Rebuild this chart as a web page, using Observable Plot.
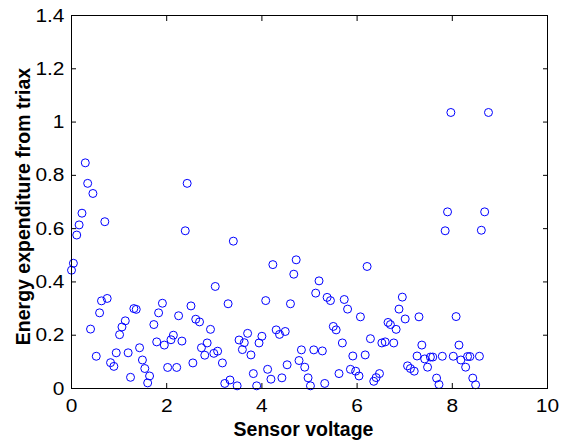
<!DOCTYPE html>
<html><head><meta charset="utf-8">
<script src="https://cdn.jsdelivr.net/npm/d3@7"></script>
<script src="https://cdn.jsdelivr.net/npm/@observablehq/plot@0.6"></script>
<style>
body{margin:0;background:#fff}
#chart{position:absolute;left:0;top:0}
</style>
</head><body><div id="chart"></div>
<script>
const voltage = [0.00,0.04,0.11,0.16,0.22,0.29,0.34,0.40,0.45,0.52,0.59,0.63,0.70,0.75,0.82,0.89,0.94,1.01,1.06,1.13,1.19,1.24,1.31,1.36,1.43,1.49,1.54,1.60,1.64,1.73,1.79,1.83,1.91,1.95,2.02,2.09,2.14,2.21,2.25,2.32,2.39,2.43,2.51,2.55,2.61,2.69,2.73,2.80,2.85,2.92,2.99,3.02,3.07,3.17,3.22,3.29,3.33,3.40,3.48,3.52,3.59,3.63,3.70,3.77,3.82,3.89,3.94,4.00,4.08,4.12,4.19,4.23,4.30,4.37,4.42,4.49,4.53,4.60,4.67,4.72,4.78,4.83,4.90,4.97,5.02,5.09,5.13,5.20,5.27,5.32,5.37,5.44,5.50,5.56,5.62,5.69,5.73,5.80,5.86,5.91,5.97,6.04,6.07,6.17,6.21,6.28,6.35,6.40,6.47,6.52,6.59,6.65,6.70,6.77,6.82,6.88,6.95,7.01,7.06,7.12,7.20,7.26,7.30,7.36,7.42,7.48,7.54,7.59,7.67,7.72,7.79,7.85,7.90,7.97,8.02,8.08,8.14,8.18,8.28,8.32,8.37,8.43,8.49,8.57,8.61,8.68,8.76];
const energy = [0.444,0.470,0.576,0.614,0.658,0.847,0.770,0.223,0.732,0.121,0.284,0.329,0.626,0.338,0.097,0.083,0.134,0.202,0.231,0.254,0.134,0.042,0.300,0.297,0.153,0.107,0.075,0.021,0.047,0.240,0.175,0.284,0.320,0.163,0.079,0.183,0.200,0.079,0.273,0.178,0.592,0.770,0.310,0.096,0.260,0.250,0.153,0.125,0.171,0.222,0.132,0.383,0.140,0.096,0.019,0.318,0.032,0.553,0.010,0.182,0.146,0.172,0.207,0.126,0.056,0.010,0.171,0.196,0.330,0.072,0.035,0.465,0.220,0.203,0.040,0.214,0.089,0.318,0.429,0.483,0.105,0.145,0.080,0.040,0.010,0.145,0.358,0.404,0.141,0.019,0.342,0.330,0.233,0.220,0.056,0.171,0.334,0.298,0.072,0.122,0.065,0.047,0.269,0.126,0.458,0.187,0.027,0.041,0.056,0.171,0.175,0.248,0.240,0.171,0.222,0.298,0.343,0.261,0.085,0.075,0.065,0.122,0.269,0.163,0.111,0.080,0.118,0.118,0.039,0.015,0.121,0.592,0.663,1.036,0.121,0.270,0.163,0.107,0.080,0.120,0.120,0.039,0.014,0.121,0.594,0.663,1.036];
const xTicks = [0, 2, 4, 6, 8, 10];
const yTicks = [0, 0.2, 0.4, 0.6, 0.8, 1, 1.2, 1.4];
const xLabel = "Sensor voltage";
const yLabel = "Energy expenditure from triax";

const data = voltage.map((v, i) => ({v, e: energy[i]}));
const font = "'Liberation Sans', Arial, Helvetica, sans-serif";

const chart = Plot.plot({
  width: 565, height: 443,
  marginLeft: 71, marginRight: 18, marginTop: 15, marginBottom: 55,
  style: {fontFamily: font, fontSize: "19px", background: "white", color: "black", overflow: "visible"},
  x: {domain: [0, 10]},
  y: {domain: [0, 1.4]},
  marks: [
    Plot.axisX(xTicks, {anchor: "bottom", tickSize: -5, tickPadding: 15, fontSize: 19, label: null, tickFormat: d => String(d), stroke: "black", fill: "black"}),
    Plot.axisX(xTicks, {anchor: "top", tickSize: -5, label: null, tickFormat: () => "", stroke: "black"}),
    Plot.axisY(yTicks, {anchor: "left", tickSize: -5, tickPadding: 12, fontSize: 19, label: null, tickFormat: d => String(d), stroke: "black", fill: "black"}),
    Plot.axisY(yTicks, {anchor: "right", tickSize: -5, label: null, tickFormat: () => "", stroke: "black"}),
    Plot.dot(data, {x: "v", y: "e", r: 4, stroke: "#0000ff", strokeWidth: 1, fill: "none"}),
    Plot.frame({stroke: "black", strokeWidth: 1}),
    Plot.text([xLabel], {frameAnchor: "bottom", dy: 41, dx: -6, textAnchor: "middle", lineAnchor: "middle", fontWeight: "bold", fontSize: 19.5, fill: "black"}),
    Plot.text([yLabel], {frameAnchor: "left", dx: -48, dy: 4.5, rotate: -90, textAnchor: "middle", lineAnchor: "middle", fontWeight: "bold", fontSize: 19.5, fill: "black"})
  ]
});
document.getElementById("chart").appendChild(chart);

// the reference's tick digits are a little wider than Liberation Sans
function stretch(el, sx, sy) {
  const t = el.getAttribute("transform");
  if (t) {
    el.setAttribute("transform", `${t} scale(${sx},${sy})`);
  } else {
    const x = parseFloat(el.getAttribute("x")) || 0, y = parseFloat(el.getAttribute("y")) || 0;
    el.setAttribute("transform", `translate(${x},${y}) scale(${sx},${sy}) translate(${-x},${-y})`);
  }
}
d3.select(chart).selectAll("text").each(function() {
  const s = this.textContent;
  if (!s || s === xLabel || s === yLabel) return;
  stretch(this, 1.1, 1);
});
</script>
</body></html>
